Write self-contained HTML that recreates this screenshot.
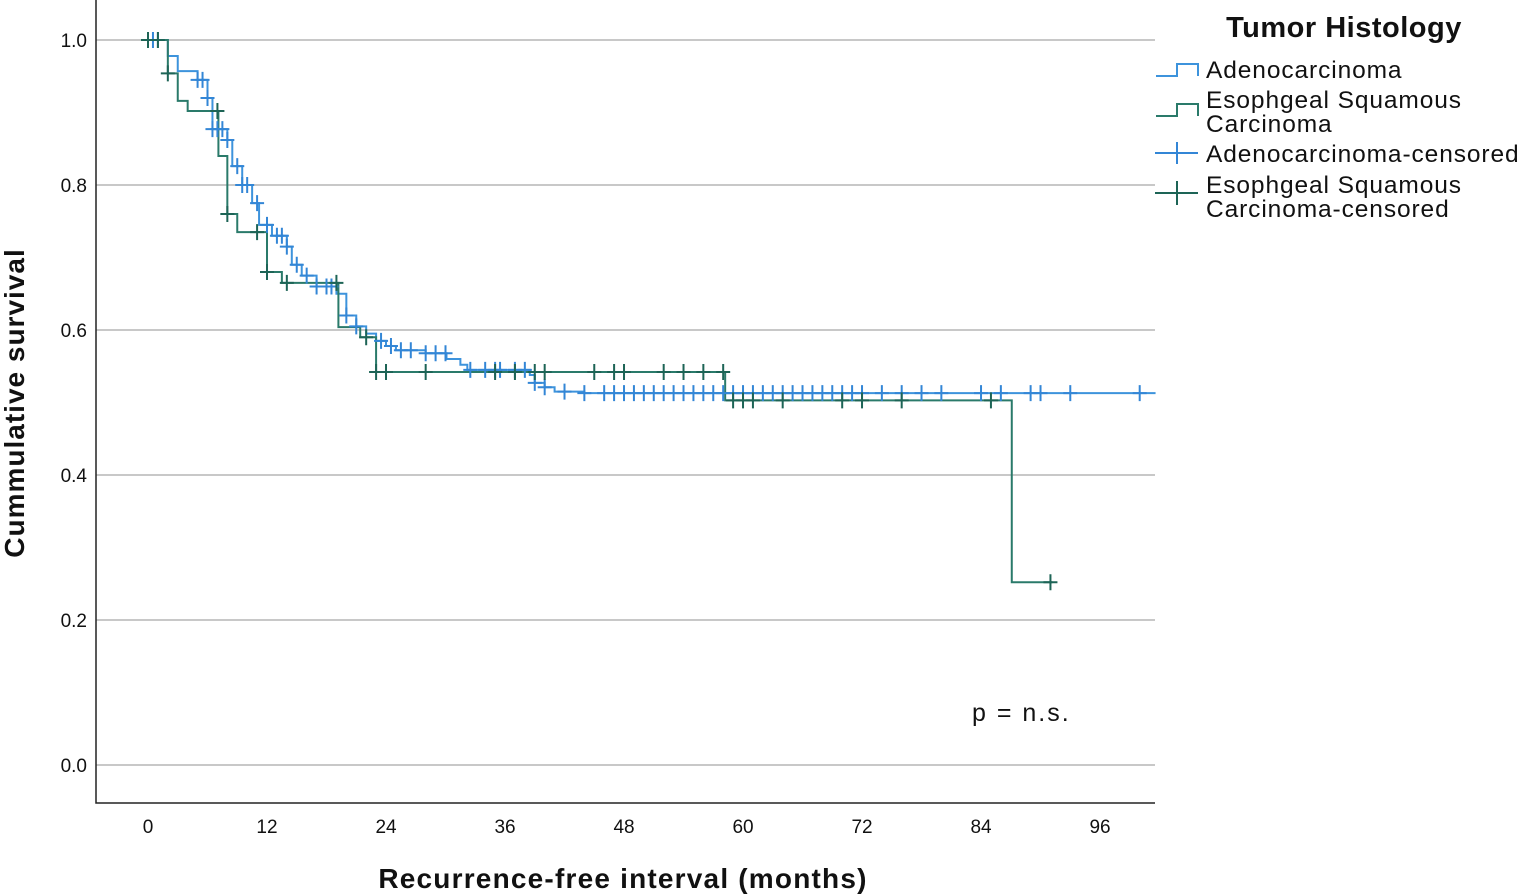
<!DOCTYPE html>
<html><head><meta charset="utf-8"><style>
body{margin:0;background:#fff;}
svg{display:block;font-family:"Liberation Sans",sans-serif;}
</style></head><body>
<svg id="chart" width="1524" height="895">
<g id="grid"></g>
<g id="curves"></g>
<g id="axes"></g>
<text x="0" y="0" transform="translate(24,403) rotate(-90)" text-anchor="middle" font-size="28" font-weight="bold" letter-spacing="1" fill="#111">Cummulative survival</text>
<text x="623" y="888" text-anchor="middle" font-size="28" font-weight="bold" letter-spacing="1.2" fill="#111">Recurrence-free interval (months)</text>
<text x="972" y="721" font-size="25" letter-spacing="2" fill="#111">p = n.s.</text>
<g font-size="24.5" letter-spacing="0.9" fill="#111">
<text x="1344" y="37" text-anchor="middle" font-size="29" font-weight="bold" letter-spacing="0.5">Tumor Histology</text>
<g><path d="M1156,76 H1177 V64 H1198 V76" fill="none" stroke="#3d93dc" stroke-width="2"/><text x="1206" y="78">Adenocarcinoma</text></g>
<g><path d="M1156,116 H1177 V104 H1198 V116" fill="none" stroke="#2a7a6a" stroke-width="2"/><text x="1206" y="108">Esophgeal Squamous</text><text x="1206" y="132">Carcinoma</text></g>
<g><path d="M1155,153 H1198 M1177,142 V164" stroke="#3386d6" stroke-width="2"/><text x="1206" y="162">Adenocarcinoma-censored</text></g>
<g><path d="M1155,193 H1198 M1177,181 V205" stroke="#1d6456" stroke-width="2"/><text x="1206" y="193">Esophgeal Squamous</text><text x="1206" y="217">Carcinoma-censored</text></g>
</g>
</svg>
<script>
const xTicks=[0,12,24,36,48,60,72,84,96];
const yTicks=[0.0,0.2,0.4,0.6,0.8,1.0];
const yTickLabels=["0.0","0.2","0.4","0.6","0.8","1.0"];
const adenoTimes=[0,2,3,5,6,6.5,8,8.5,9.5,10.5,11.2,12.5,14,14.5,15.5,17,19,20,21,22,23,24,25,28,30.1,31.5,32.2,38.5,39,40,41,44];
const adenoSurv=[1.0,0.978,0.957,0.945,0.92,0.877,0.862,0.826,0.8,0.775,0.745,0.73,0.715,0.69,0.675,0.66,0.65,0.62,0.605,0.595,0.585,0.578,0.572,0.568,0.56,0.552,0.545,0.538,0.527,0.521,0.515,0.513];
const adenoEnd=101.6;
const escTimes=[0,2,3.0,4,7.1,8.0,9,12,13.5,19.2,21.4,23,58.2,87.1];
const escSurv=[1.0,0.954,0.916,0.902,0.84,0.76,0.735,0.68,0.665,0.604,0.59,0.542,0.503,0.252];
const escEnd=91.2;
const adenoCensor=[0.5,1,5,5.5,6,6.5,7,7.5,8,9,9.5,10,11,12,13,13.5,14,15,16,17,18,18.5,20,21,23.5,24.5,25.5,26.5,28,29,30,32.5,34,35,35.5,37,38,39,40,42,44,46,47,48,49,50,51,52,53,54,55,56,57,58,59,60,61,62,63,64,65,66,67,68,69,70,71,72,74,76,78,80,84,86,89,90,93,100];
const escCensor=[0,1,2,7,8,11,12,14,19,22,23,24,28,35,37,39,40,45,47,48,52,54,56,58,59,60,61,64,70,72,76,85,91];
const X=m=>148+m*9.917, Y=s=>765-s*725;
const NS="http://www.w3.org/2000/svg";
function mk(tag,attrs,parent){const e=document.createElementNS(NS,tag);for(const k in attrs)e.setAttribute(k,attrs[k]);parent.appendChild(e);return e;}
const grid=document.getElementById('grid'),axes=document.getElementById('axes'),curves=document.getElementById('curves');
yTicks.forEach((v,i)=>{
 const l=mk('line',{x1:96,x2:1155,y1:Y(v),y2:Y(v),stroke:'#c8c8c8','stroke-width':2},grid);
 
 
 const t=mk('text',{x:87,y:Y(v)+7,'text-anchor':'end','font-size':19,fill:'#111'},axes);
 t.textContent=yTickLabels[i];
 
 
});
xTicks.forEach(v=>{
 const t=mk('text',{x:X(v),y:833,'text-anchor':'middle','font-size':19,fill:'#111'},axes);
 t.textContent=v;
 
 
});
const ax=mk('path',{d:'M96,0 V803 H1155',fill:'none',stroke:'#222','stroke-width':1.5},axes);


function stepPath(ts,ss,end){let d='M'+X(ts[0])+','+Y(ss[0]);for(let i=1;i<ts.length;i++){d+=' H'+X(ts[i])+' V'+Y(ss[i]);}d+=' H'+X(end);return d;}
function survAt(ts,ss,t){let s=ss[0];for(let i=0;i<ts.length;i++){if(ts[i]<=t)s=ss[i];}return s;}
const p1=mk('path',{d:stepPath(adenoTimes,adenoSurv,adenoEnd),fill:'none',stroke:'#3d93dc','stroke-width':2},curves);


const p2=mk('path',{d:stepPath(escTimes,escSurv,escEnd),fill:'none',stroke:'#2a7a6a','stroke-width':2},curves);


function censor(list,ts,ss,col,name){list.forEach(t=>{const x=X(t),y=Y(survAt(ts,ss,t));const m=mk('path',{d:`M${x-7},${y} H${x+7} M${x},${y-8} V${y+8}`,stroke:col,'stroke-width':2},curves);
 
 });}
censor(adenoCensor,adenoTimes,adenoSurv,'#3386d6','adeno-censor-mark');
censor(escCensor,escTimes,escSurv,'#1d6456','esc-censor-mark');
</script>
</body></html>
